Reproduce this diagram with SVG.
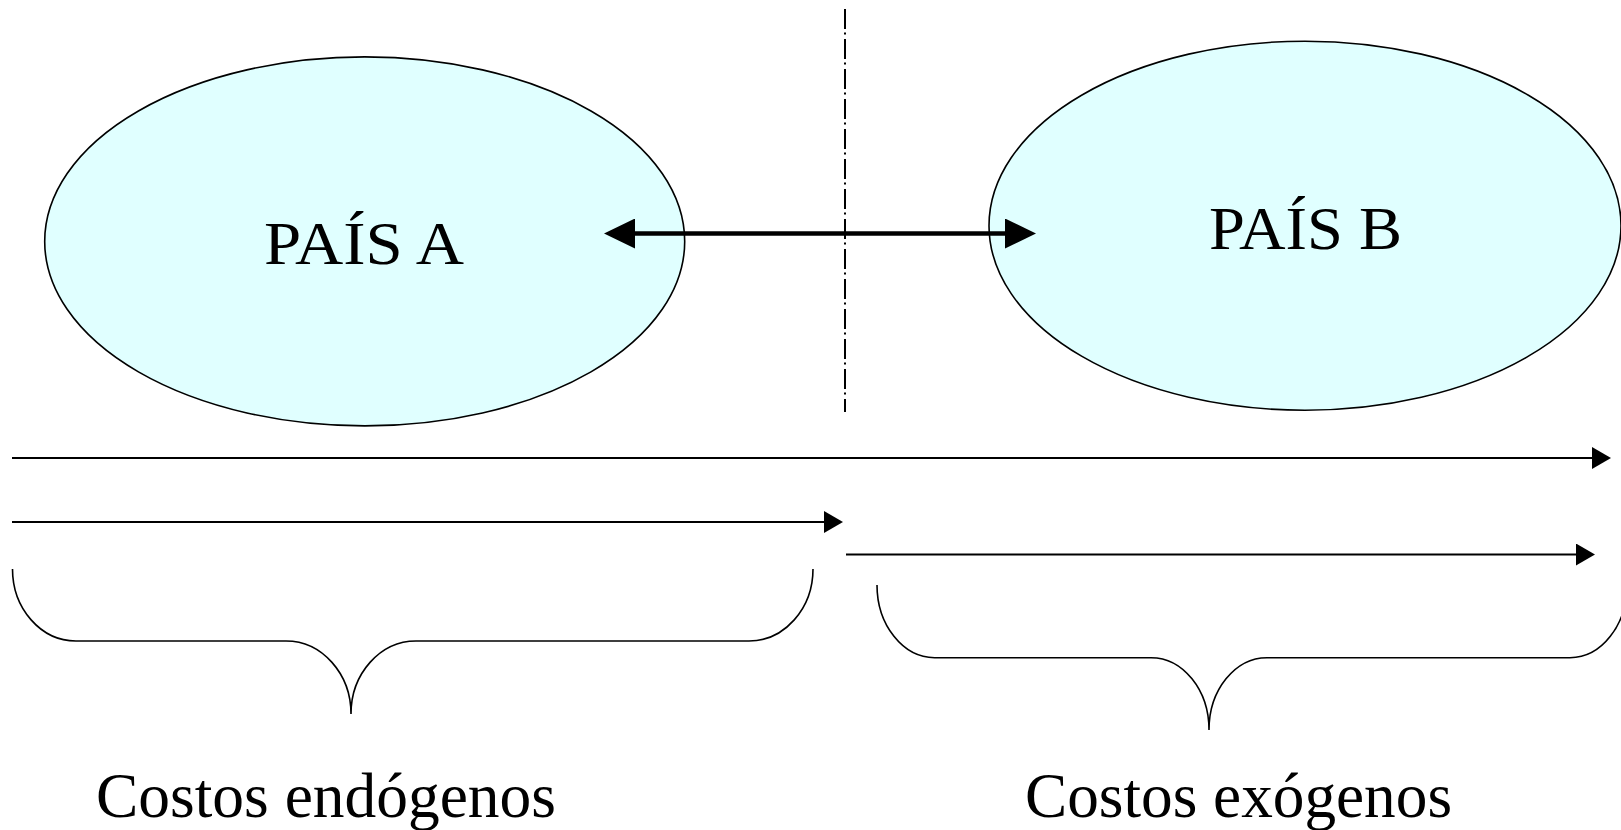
<svg xmlns="http://www.w3.org/2000/svg" width="1621" height="830" viewBox="0 0 1621 830">
<style>
.country{fill:#E0FFFF;stroke:#000;stroke-width:1.6}
.lbl{font-family:"Liberation Serif","Times New Roman",serif;fill:#000}
.arrow{stroke:#000;stroke-width:2;fill:none}
.brace{stroke:#000;stroke-width:1.6;fill:none}
.divider{stroke:#000;stroke-width:2;stroke-dasharray:20 3.5 2 4.5;fill:none}
</style>
<defs>
<marker id="head" markerUnits="userSpaceOnUse" viewBox="0 0 19 22" markerWidth="19" markerHeight="22" refX="0" refY="11" orient="auto">
<path d="M0,0 L19,11 L0,22 z" fill="#000"/>
</marker>
<marker id="bighead" markerUnits="userSpaceOnUse" viewBox="0 0 31 30" markerWidth="31" markerHeight="30" refX="0" refY="15" orient="auto-start-reverse">
<path d="M0,0 L31,15 L0,30 z" fill="#000"/>
</marker>
</defs>
<rect width="1621" height="830" fill="#fff"/>
<g id="divider">
<line class="divider" x1="845" y1="9" x2="845" y2="412"/>
</g>
<g id="pais-a">
<ellipse class="country" cx="364.7" cy="241.4" rx="320" ry="184.5"/>
<text class="lbl" x="264" y="264" font-size="62" textLength="200" lengthAdjust="spacingAndGlyphs">PAÍS A</text>
</g>
<g id="pais-b">
<ellipse class="country" cx="1305" cy="225.7" rx="316" ry="184.5"/>
<text class="lbl" x="1209" y="249" font-size="62" textLength="193" lengthAdjust="spacingAndGlyphs">PAÍS B</text>
</g>
<g id="connectors">
<line x1="635" y1="233.5" x2="1005" y2="233.5" stroke="#000" stroke-width="4.5" marker-start="url(#bighead)" marker-end="url(#bighead)"/>
<line class="arrow" x1="12" y1="458" x2="1592" y2="458" marker-end="url(#head)"/>
<line class="arrow" x1="12" y1="522" x2="824" y2="522" marker-end="url(#head)"/>
<line class="arrow" x1="846" y1="554.5" x2="1576" y2="554.5" marker-end="url(#head)"/>
</g>
<g id="brace-endogenos">
<path class="brace" d="M12.5,569 C12.5,608.7 41,641 76,641 L286,641 C321.9,641 351,673.7 351,714 C351,673.7 380.1,641 416,641 L749,641 C784.3,641 813,608.7 813,569"/>
<text class="lbl" x="96" y="817" font-size="64" textLength="460" lengthAdjust="spacingAndGlyphs">Costos endógenos</text>
</g>
<g id="brace-exogenos">
<path class="brace" d="M877,585 C877,625 903,657.7 934.6,657.7 L1151,657.7 C1183,657.7 1209,690 1209,730 C1209,690 1235,657.7 1267,657.7 L1570,657.7 C1601.5,657.7 1627,625 1627,585"/>
<text class="lbl" x="1025" y="817" font-size="64" textLength="427" lengthAdjust="spacingAndGlyphs">Costos exógenos</text>
</g>
</svg>
